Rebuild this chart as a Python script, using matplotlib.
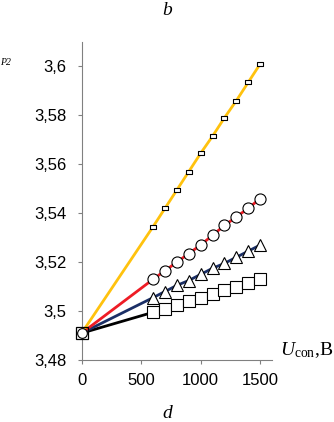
import matplotlib
matplotlib.use('Agg')
import matplotlib.pyplot as plt
from matplotlib.ticker import FixedLocator, FixedFormatter

plt.rcParams['font.family'] = 'Liberation Sans'
plt.rcParams['mathtext.fontset'] = 'custom'
plt.rcParams['mathtext.rm'] = 'Liberation Serif'
plt.rcParams['mathtext.it'] = 'Liberation Serif:italic'

# Data
u_line = [0, 600, 700, 800, 900, 1000, 1100, 1200, 1300, 1400, 1500]
u_pts = u_line[1:]
y0 = 3.491

yellow = [3.5345, 3.542, 3.5495, 3.557, 3.5645, 3.5715, 3.579, 3.586, 3.5935, 3.601]
red = [3.513, 3.5165, 3.520, 3.5235, 3.527, 3.531, 3.535, 3.5385, 3.542, 3.546]
blue = [3.5055, 3.508, 3.5105, 3.5125, 3.515, 3.5175, 3.5195, 3.522, 3.5245, 3.527]
black = [3.4995, 3.501, 3.5025, 3.504, 3.5055, 3.507, 3.5085, 3.510, 3.5115, 3.513]

y_ticks = [3.48, 3.50, 3.52, 3.54, 3.56, 3.58, 3.60]
y_labels = ['3,48', '3,5', '3,52', '3,54', '3,56', '3,58', '3,6']
x_ticks = [0, 500, 1000, 1500]
x_labels = ['0', '500', '1000', '1500']

fig = plt.figure(figsize=(3.34, 4.22), dpi=100)
ax = fig.add_axes([0.2446, 0.1469, 0.5698, 0.7536])

rect = [(-2, -1), (2, -1), (2, 1), (-2, 1), (-2, -1)]

series = [
    (black, 'black', 's', 8),
    (blue, '#1b2f66', '^', 8),
    (red, '#ee1c25', 'o', 8),
    (yellow, '#ffc20e', rect, 4.5),
]

for ys, col, mk, ms in series:
    ax.plot(u_line, [y0] + ys, color=col, lw=2.0, zorder=2, solid_capstyle='butt')

for ys, col, mk, ms in series:
    ax.plot(u_pts, ys, ls='none', marker=mk, ms=ms, mfc='white', mec='black',
            mew=0.8, zorder=3)

ax.plot([0], [y0], ls='none', marker='o', ms=7, mfc='white', mec='black', mew=0.8,
        zorder=4, clip_on=False)
ax.plot([0], [y0], ls='none', marker='s', ms=8, mfc='none', mec='black', mew=0.9,
        zorder=5, clip_on=False)

ax.set_xlim(0, 1600)
ax.set_ylim(3.48, 3.61)
ax.xaxis.set_major_locator(FixedLocator(x_ticks))
ax.xaxis.set_major_formatter(FixedFormatter(x_labels))
ax.yaxis.set_major_locator(FixedLocator(y_ticks))
ax.yaxis.set_major_formatter(FixedFormatter(y_labels))

for s in ['top', 'right']:
    ax.spines[s].set_visible(False)
for s in ['left', 'bottom']:
    ax.spines[s].set_color('#808080')
    ax.spines[s].set_linewidth(0.8)
ax.tick_params(direction='out', length=3, width=0.8, color='#808080', labelsize=12)
ax.tick_params(axis='y', pad=8)
ax.tick_params(axis='x', pad=6)

fig.text(280 / 334, 1 - 355 / 422, r'$U_{\rm con}$,B', fontsize=14,
         family='Liberation Serif', ha='left', va='baseline')
fig.text(167 / 334, 1 - 15 / 422, 'b', fontsize=14, family='Liberation Serif',
         style='italic', ha='center', va='baseline')
fig.text(167 / 334, 1 - 418 / 422, 'd', fontsize=14, family='Liberation Serif',
         style='italic', ha='center', va='baseline')
fig.text(0, 1 - 65 / 422, 'P2', fontsize=7, family='Liberation Serif',
         style='italic', ha='left', va='baseline')

fig.savefig('out.png', dpi=100)
